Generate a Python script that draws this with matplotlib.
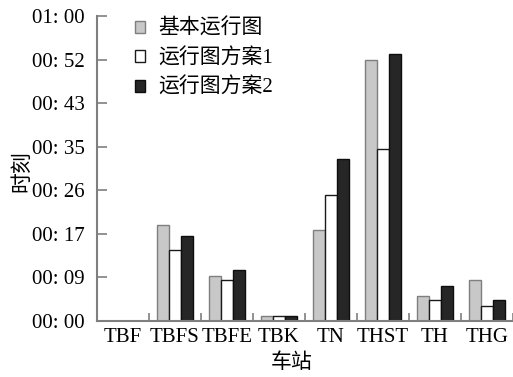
import numpy as np
import matplotlib
matplotlib.use("Agg")
import matplotlib.pyplot as plt

plt.rcParams['font.family'] = ['Liberation Serif', 'Noto Sans CJK SC']
plt.rcParams['font.size'] = 15

stations = ["TBF", "TBFS", "TBFE", "TBK", "TN", "THST", "TH", "THG"]
# arrival times in minutes after 00:00
base_plan = [0, 18.8, 8.8, 0.9, 17.9, 51.3, 4.9, 8.1]
plan_1 = [0, 13.9, 8.1, 0.9, 24.8, 33.8, 4.1, 2.9]
plan_2 = [0, 16.7, 10.0, 0.9, 31.8, 52.5, 6.9, 4.1]
series_names = ["基本运行图", "运行图方案1", "运行图方案2"]
ytick_labels = ["00: 00", "00: 09", "00: 17", "00: 26", "00: 35", "00: 43", "00: 52", "01: 00"]

fig = plt.figure(figsize=(5.13, 3.77), dpi=100)
ax = fig.add_axes([0.189, 0.1485, 0.811, 0.8091])

x = np.arange(len(stations))
w = 0.225
ax.bar(x - w, base_plan, w, color="#c8c8c8", edgecolor="#7f7f7f", linewidth=1.0, label=series_names[0])
ax.bar(x, plan_1, w, color="white", edgecolor="#1a1a1a", linewidth=1.0, label=series_names[1])
ax.bar(x + w, plan_2, w, color="#262626", edgecolor="#0d0d0d", linewidth=1.0, label=series_names[2])

ax.set_xlim(-0.5, len(stations) - 0.5)
ax.set_ylim(0, 60)
ax.set_yticks(np.linspace(0, 60, 8))
ax.set_yticklabels(ytick_labels)
ax.set_xticks(x)
ax.set_xticklabels(stations)
ax.set_xticks(x + 0.5, minor=True)
ax.tick_params(axis="x", which="major", length=0, pad=5)
ax.tick_params(axis="x", which="minor", direction="in", length=6, color="#7f7f7f", width=1.2)
ax.tick_params(axis="y", direction="in", length=7, color="#7f7f7f", width=1.2, pad=9)

for side in ["top", "right"]:
    ax.spines[side].set_visible(False)
for side in ["left", "bottom"]:
    ax.spines[side].set_color("#7f7f7f")
    ax.spines[side].set_linewidth(1.5)

ax.set_xlabel("车站")
ax.xaxis.set_label_coords(0.469, -0.105)
ax.set_ylabel("时刻")
ax.yaxis.set_label_coords(-0.155, 0.49)

ax.legend(loc="upper left", bbox_to_anchor=(0.091, 0.99), frameon=False,
          borderpad=0, borderaxespad=0,
          handlelength=0.5, handleheight=0.5, handletextpad=0.62, labelspacing=0.45)

fig.savefig("out.png", dpi=100)
